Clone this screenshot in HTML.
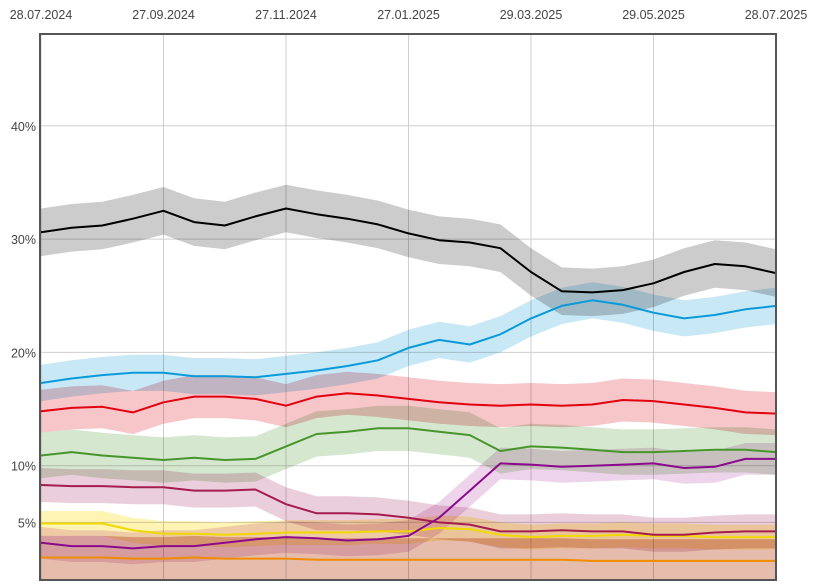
<!DOCTYPE html>
<html><head><meta charset="utf-8">
<style>
html,body{margin:0;padding:0;background:#fff;}
svg{display:block;font-family:"Liberation Sans",Arial,sans-serif;}
.band{mix-blend-mode:multiply;}
</style></head>
<body>
<svg id="chart" width="815" height="588" viewBox="0 0 815 588" xmlns="http://www.w3.org/2000/svg">
<g id="grid"></g>
<g id="bands"></g>
<g id="lines"></g>
<g id="labels"></g>
<rect x="40" y="34" width="736" height="546" fill="none" stroke="#555" stroke-width="2"/>
</svg>
<script>
const xTickLabels = ["28.07.2024","27.09.2024","27.11.2024","27.01.2025","29.03.2025","29.05.2025","28.07.2025"];
const yTicks = [5,10,20,30,40];
const cdu = [30.6,31.0,31.2,31.8,32.5,31.5,31.2,32.0,32.7,32.2,31.8,31.3,30.5,29.9,29.7,29.2,27.1,25.4,25.3,25.5,26.1,27.1,27.8,27.6,27.0];
const afd = [17.3,17.7,18.0,18.2,18.2,17.9,17.9,17.8,18.1,18.4,18.8,19.3,20.4,21.1,20.7,21.6,23.0,24.1,24.6,24.2,23.5,23.0,23.3,23.8,24.1];
const spd = [14.8,15.1,15.2,14.7,15.6,16.1,16.1,15.9,15.3,16.1,16.4,16.2,15.9,15.6,15.4,15.3,15.4,15.3,15.4,15.8,15.7,15.4,15.1,14.7,14.6];
const gruene = [10.9,11.2,10.9,10.7,10.5,10.7,10.5,10.6,11.7,12.8,13.0,13.3,13.3,13.0,12.7,11.3,11.7,11.6,11.4,11.2,11.2,11.3,11.4,11.4,11.2];
const linke = [3.2,2.9,2.9,2.7,2.9,2.9,3.2,3.5,3.7,3.6,3.4,3.5,3.8,5.4,7.8,10.2,10.1,9.9,10.0,10.1,10.2,9.8,9.9,10.6,10.6];
const bsw = [8.3,8.2,8.2,8.1,8.1,7.8,7.8,7.9,6.6,5.8,5.8,5.7,5.4,5.0,4.8,4.2,4.2,4.3,4.2,4.2,3.9,3.9,4.1,4.2,4.2];
const fdp = [4.9,4.9,4.9,4.3,4.0,4.0,3.9,4.0,4.1,4.1,4.1,4.2,4.2,4.5,4.4,3.9,3.7,3.8,3.8,3.9,3.8,3.8,3.7,3.7,3.7];
const fw = [1.9,1.9,1.9,1.8,1.8,1.9,1.8,1.8,1.8,1.7,1.7,1.7,1.7,1.7,1.7,1.7,1.7,1.7,1.6,1.6,1.6,1.6,1.6,1.6,1.6];
const margins = [2.1,1.6,1.9,2.0,1.4,1.5,1.1,1.9];
const names = ["cdu","afd","spd","gruene","linke","bsw","fdp","freie-waehler"];

const seriesList = [cdu,afd,spd,gruene,linke,bsw,fdp,fw];
const lineColors = ["#000000","#0a9ad9","#e3000f","#46962b","#8b0a8b","#a51c4e","#f0d800","#f08c00"];
const bandColors = ["#cccccc","#c8e8f6","#f6c6c9","#d6e7d0","#eed4ea","#ebcedb","#fff4b4","#e6bcac"];

const X0=41, X1=776, Y0=579, PXPCT=11.33;
function xAt(i,n){return X0+(X1-X0)*i/(n-1);}
function yAt(v){return Y0-v*PXPCT;}
const NS="http://www.w3.org/2000/svg";
function mk(tag,attrs,parent){const e=document.createElementNS(NS,tag);for(const k in attrs)e.setAttribute(k,attrs[k]);parent.appendChild(e);return e;}

const grid=document.getElementById('grid'), labels=document.getElementById('labels');
xTickLabels.forEach((t,i)=>{
  const x=xAt(i,xTickLabels.length);
  const l=mk('line',{x1:x,x2:x,y1:34,y2:580,stroke:'#cfcfcf','stroke-width':1},grid);
  
  
  const tx=mk('text',{x:x,y:19,'text-anchor':'middle','font-size':12.5,fill:'#444'},labels);
  tx.textContent=t;
  
  
});
yTicks.forEach(v=>{
  const y=yAt(v);
  const l=mk('line',{x1:40,x2:776,y1:y,y2:y,stroke:'#cfcfcf','stroke-width':1},grid);
  
  
  const tx=mk('text',{x:36,y:y+5,'text-anchor':'end','font-size':12.5,fill:'#444'},labels);
  tx.textContent=v+'%';
  
  
});

const bands=document.getElementById('bands'), lines=document.getElementById('lines');
seriesList.forEach((s,k)=>{
  const n=s.length, m=margins[k];
  let up=[],lo=[];
  s.forEach((v,i)=>{up.push(xAt(i,n).toFixed(1)+','+yAt(Math.min(v+m,48)).toFixed(1));lo.push(xAt(i,n).toFixed(1)+','+yAt(Math.max(v-m,0)).toFixed(1));});
  const b=mk('polygon',{points:up.concat(lo.reverse()).join(' '),fill:bandColors[k],class:'band'},bands);
  
  
});
seriesList.slice().reverse().forEach((s,kk)=>{
  const k=seriesList.length-1-kk, n=s.length;
  const pts=s.map((v,i)=>xAt(i,n).toFixed(1)+','+yAt(v).toFixed(1)).join(' ');
  const p=mk('polyline',{points:pts,fill:'none',stroke:lineColors[k],'stroke-width':2,'stroke-linejoin':'round'},lines);
  
  
});
</script>
</body></html>
